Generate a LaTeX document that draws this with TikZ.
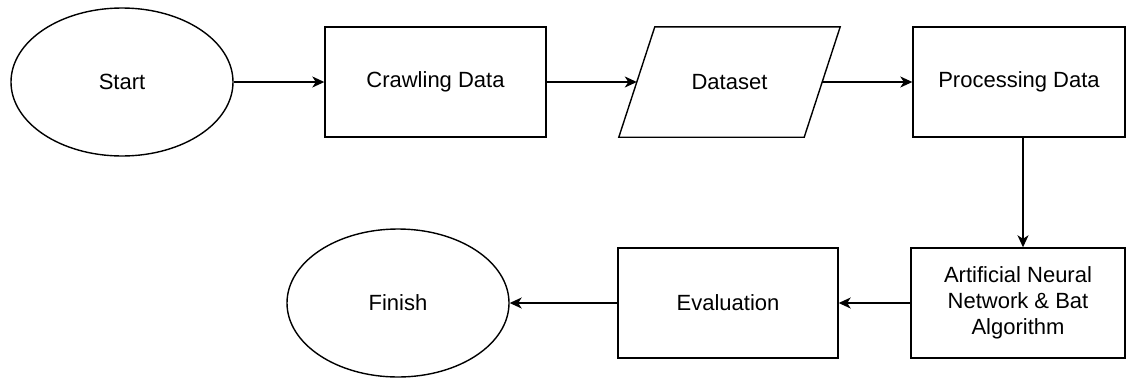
\documentclass[tikz,border=0pt]{standalone}
\usepackage{fontspec}
\setmainfont{Liberation Sans}
\usetikzlibrary{shapes.geometric,arrows.meta,calc}

\tikzset{
  every node/.style={font=\fontsize{22}{26}\selectfont, inner sep=0pt},
  terminal/.style={draw, ellipse, line width=1.4pt, minimum width=222pt, minimum height=148pt},
  process/.style={draw, rectangle, line width=1.4pt, minimum height=110pt, align=center},
  flow/.style={line width=1.4pt, -{Stealth[length=12pt,width=11pt,inset=3.5pt]}}
}

\begin{document}
\begin{tikzpicture}[x=1pt, y=-1pt]
  \useasboundingbox (0,0) rectangle (1126,378);

  % top row
  \node[terminal] (start) at (122,82) {Start};
  \node[process, minimum width=221pt] (crawl) at (435.5,82) {Crawling Data};
  \node[minimum width=185pt, minimum height=110pt] (data) at (729.5,82) {Dataset};
  \node[process, minimum width=212pt] (proc) at (1019,82) {Processing Data};

  % input/output box around the dataset label
  \draw[line width=1.4pt]
    ($(data.north west)+(18pt,0)$) -- ($(data.north east)+(18pt,0)$) --
    ($(data.south east)+(-18pt,0)$) -- ($(data.south west)+(-18pt,0)$) -- cycle;

  % bottom row
  \node[process, minimum width=214pt] (ann) at (1018,303)
    {Artificial Neural\\Network \& Bat\\Algorithm};
  \node[process, minimum width=220pt] (eval) at (728,303) {Evaluation};
  \node[terminal] (finish) at (398,303) {Finish};

  % connectors
  \draw[flow] (start) -- (crawl);
  \draw[flow] (crawl) -- (data.west);
  \draw[flow] (data.east) -- (proc);
  \draw[flow] ([xshift=4pt]proc.south) -- ([xshift=4pt]proc.south |- ann.north);
  \draw[flow] (ann) -- (eval);
  \draw[flow] (eval) -- (finish);
\end{tikzpicture}
\end{document}
